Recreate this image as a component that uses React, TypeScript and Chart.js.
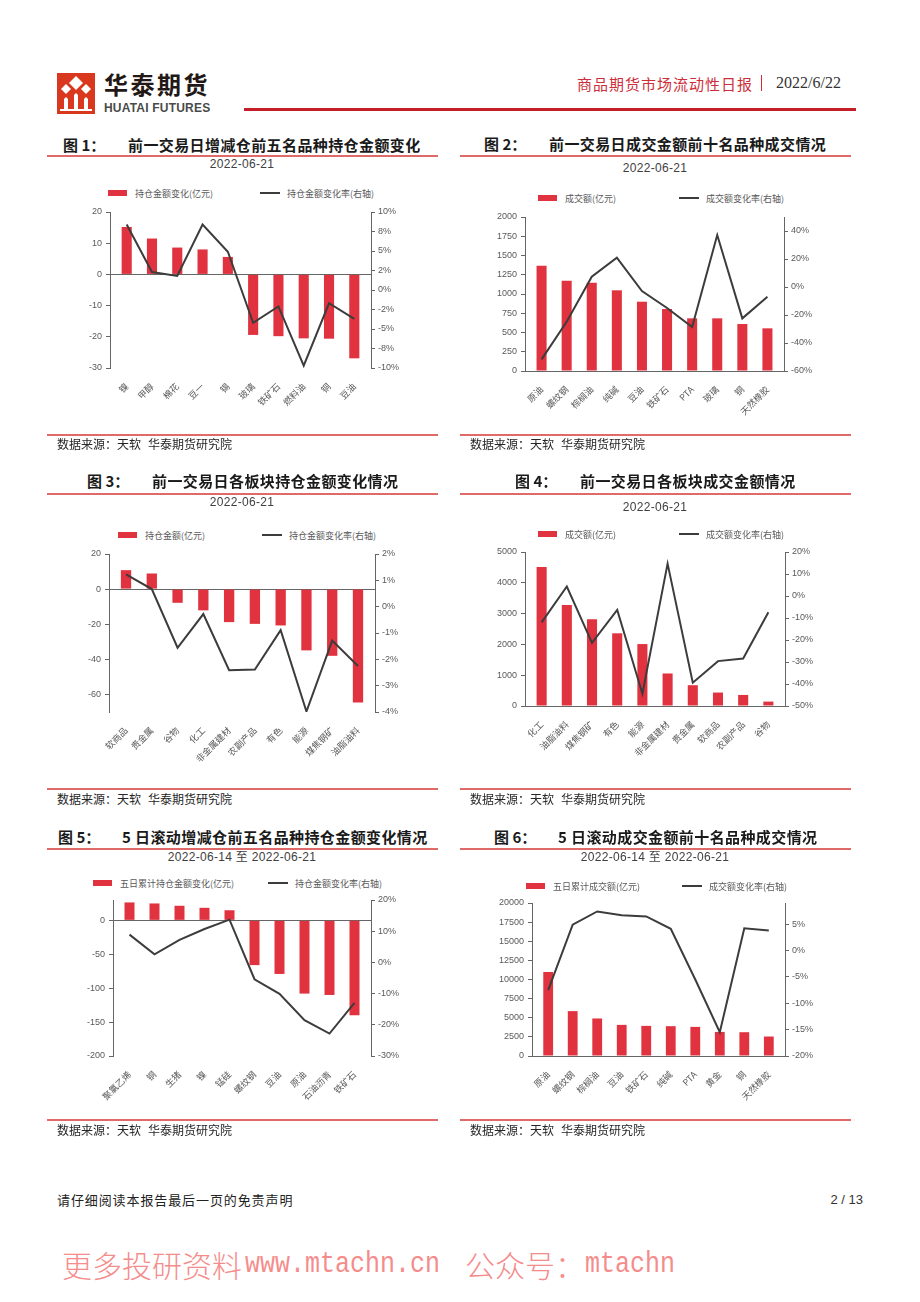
import React, { useEffect, useRef } from 'react';
import { Chart, registerables } from 'chart.js';

Chart.register(...registerables);

const FONT = "'Liberation Sans', 'Noto Sans CJK SC', sans-serif";
const CJK = "'Noto Sans CJK SC', 'Liberation Sans', sans-serif";
const BAR = '#E0323F';
const LINE = '#3C3C3C';
const AXIS = '#666666';
const TICK_TXT = '#595959';
const RED_RULE = '#E06A6A';

// ---------- Chart 1 ----------
const c1Categories = ['镍', '甲醇', '棉花', '豆一', '锡', '玻璃', '铁矿石', '燃料油', '铜', '豆油'];
const c1Bars = [15.2, 11.5, 8.6, 8.0, 5.6, -19.4, -19.8, -20.5, -20.6, -26.9];
const c1Line = [8.4, 2.3, 1.8, 8.4, 4.9, -4.2, -2.1, -9.7, -1.7, -3.7];
const c1LeftTicks = [-30, -20, -10, 0, 10, 20];
const c1RightTicks = [-10, -7.5, -5, -2.5, 0, 2.5, 5, 7.5, 10];
const c1RightLabels = ['-10%', '-8%', '-5%', '-2%', '0%', '2%', '5%', '8%', '10%'];

// ---------- Chart 2 ----------
const c2Categories = ['原油', '螺纹钢', '棕榈油', '纯碱', '豆油', '铁矿石', 'PTA', '玻璃', '铜', '天然橡胶'];
const c2Bars = [1367, 1173, 1145, 1048, 900, 805, 684, 684, 610, 554];
const c2Line = [-51.7, -24.8, 7.4, 20.9, -2.9, -15.0, -28.6, 37.1, -22.4, -6.9];
const c2LeftTicks = [0, 250, 500, 750, 1000, 1250, 1500, 1750, 2000];
const c2RightTicks = [-60, -40, -20, 0, 20, 40];
const c2RightLabels = ['-60%', '-40%', '-20%', '0%', '20%', '40%'];

// ---------- Chart 3 ----------
const c3Categories = ['软商品', '贵金属', '谷物', '化工', '非金属建材', '农副产品', '有色', '能源', '煤焦钢矿', '油脂油料'];
const c3Bars = [10.8, 8.9, -7.8, -12.1, -18.8, -19.8, -20.7, -34.9, -38.0, -64.6];
const c3Line = [1.23, 0.67, -1.56, -0.28, -2.41, -2.39, -0.89, -3.98, -1.29, -2.25];
const c3LeftTicks = [-60, -40, -20, 0, 20];
const c3RightTicks = [-4, -3, -2, -1, 0, 1, 2];
const c3RightLabels = ['-4%', '-3%', '-2%', '-1%', '0%', '1%', '2%'];

// ---------- Chart 4 ----------
const c4Categories = ['化工', '油脂油料', '煤焦钢矿', '有色', '能源', '非金属建材', '贵金属', '软商品', '农副产品', '谷物'];
const c4Bars = [4511, 3282, 2816, 2360, 2011, 1056, 675, 437, 359, 143];
const c4Line = [-12.0, 4.3, -21.3, -6.3, -44.4, 14.7, -39.4, -29.6, -28.4, -7.4];
const c4LeftTicks = [0, 1000, 2000, 3000, 4000, 5000];
const c4RightTicks = [-50, -40, -30, -20, -10, 0, 10, 20];
const c4RightLabels = ['-50%', '-40%', '-30%', '-20%', '-10%', '0%', '10%', '20%'];

// ---------- Chart 5 ----------
const c5Categories = ['聚氯乙烯', '铜', '生猪', '镍', '锰硅', '螺纹钢', '豆油', '原油', '石油沥青', '铁矿石'];
const c5Bars = [26.4, 24.9, 21.5, 18.5, 14.9, -66, -79, -108, -110, -140];
const c5Line = [8.9, 2.6, 7.2, 10.7, 13.7, -5.4, -10.1, -18.5, -22.8, -13.0];
const c5LeftTicks = [-200, -150, -100, -50, 0];
const c5RightTicks = [-30, -20, -10, 0, 10, 20];
const c5RightLabels = ['-30%', '-20%', '-10%', '0%', '10%', '20%'];

// ---------- Chart 6 ----------
const c6Categories = ['原油', '螺纹钢', '棕榈油', '豆油', '铁矿石', '纯碱', 'PTA', '黄金', '铜', '天然橡胶'];
const c6Bars = [10985, 5866, 4906, 4068, 3937, 3898, 3806, 3150, 3110, 2546];
const c6Line = [-7.5, 4.9, 7.4, 6.7, 6.45, 4.1, -5.5, -15.5, 4.2, 3.8];
const c6LeftTicks = [0, 2500, 5000, 7500, 10000, 12500, 15000, 17500, 20000];
const c6RightTicks = [-20, -15, -10, -5, 0, 5];
const c6RightLabels = ['-20%', '-15%', '-10%', '-5%', '0%', '5%'];

type ComboProps = {
  cats: string[];
  bars: number[];
  line: number[];
  barLabel: string;
  lineLabel: string;
  leftMin: number;
  leftMax: number;
  leftTicks: number[];
  rightMin: number;
  rightMax: number;
  rightTicks: number[];
  rightLabels: string[];
  L: number;
  R: number;
  T: number;
  B: number;
};

const PADL = 50;
const PADR = 45;
const PADT = 10;
const PADB = 75;
const EDGE = 0.16;

function ComboChart(p: ComboProps) {
  const ref = useRef<HTMLCanvasElement | null>(null);
  const width = p.R - p.L + PADL + PADR;
  const height = p.B - p.T + PADT + PADB;
  useEffect(() => {
    if (!ref.current) return;
    const chart = new Chart(ref.current, {
      type: 'bar',
      data: {
        datasets: [
          {
            type: 'line',
            label: p.lineLabel,
            data: p.line.map((v, i) => ({ x: i, y: v })),
            yAxisID: 'y1',
            xAxisID: 'x',
            borderColor: LINE,
            backgroundColor: LINE,
            borderWidth: 2,
            pointRadius: 0,
            tension: 0,
            fill: false,
            order: 0,
          } as any,
          {
            type: 'bar',
            label: p.barLabel,
            data: p.bars.map((v, i) => ({ x: i, y: v })),
            yAxisID: 'y',
            xAxisID: 'x',
            backgroundColor: BAR,
            borderWidth: 0,
            barPercentage: 0.4,
            categoryPercentage: 1,
            order: 1,
          } as any,
        ],
      },
      options: {
        responsive: false,
        animation: false,
        devicePixelRatio: 1,
        layout: { padding: { top: PADT, left: 0, right: 0, bottom: 0 } },
        plugins: {
          legend: { display: false },
          tooltip: { enabled: false },
          title: { display: false },
        },
        scales: {
          x: {
            type: 'linear',
            position: 'bottom',
            min: -0.5 - EDGE,
            max: p.cats.length - 0.5 + EDGE,
            offset: false,
            grid: { display: false },
            border: { display: false },
            afterBuildTicks: (ax: any) => {
              ax.ticks = p.cats.map((_, i) => ({ value: i }));
            },
            afterFit: (ax: any) => {
              ax.height = PADB;
            },
            ticks: {
              autoSkip: false,
              minRotation: 45,
              maxRotation: 45,
              padding: 5,
              color: TICK_TXT,
              font: { family: CJK, size: 9 },
              callback: (v: any) => p.cats[v as number] ?? '',
            },
          } as any,
          y: {
            type: 'linear',
            position: 'left',
            min: p.leftMin,
            max: p.leftMax,
            afterBuildTicks: (ax: any) => {
              ax.ticks = p.leftTicks.map((v) => ({ value: v }));
            },
            afterFit: (ax: any) => {
              ax.width = PADL;
            },
            grid: {
              drawOnChartArea: true,
              color: (ctx: any) => (ctx.tick && ctx.tick.value === 0 ? AXIS : 'rgba(0,0,0,0)'),
              tickColor: AXIS,
              tickLength: 4,
              lineWidth: 1,
            },
            border: { display: true, color: AXIS, width: 1 },
            ticks: {
              color: TICK_TXT,
              padding: 4,
              font: { family: FONT, size: 9 },
              callback: (v: any) => String(v),
            },
          } as any,
          y1: {
            type: 'linear',
            position: 'right',
            min: p.rightMin,
            max: p.rightMax,
            afterBuildTicks: (ax: any) => {
              ax.ticks = p.rightTicks.map((v) => ({ value: v }));
            },
            afterFit: (ax: any) => {
              ax.width = PADR;
            },
            grid: {
              drawOnChartArea: false,
              tickColor: AXIS,
              tickLength: 4,
            },
            border: { display: true, color: AXIS, width: 1 },
            ticks: {
              color: TICK_TXT,
              padding: 3,
              font: { family: FONT, size: 9 },
              callback: (v: any) => {
                const idx = p.rightTicks.indexOf(v as number);
                return idx >= 0 ? p.rightLabels[idx] : '';
              },
            },
          } as any,
        },
      },
    });
    return () => chart.destroy();
  }, []);
  return (
    <canvas
      ref={ref}
      width={width}
      height={height}
      style={{ position: 'absolute', left: p.L - PADL, top: p.T - PADT, width, height }}
    />
  );
}

type TxtProps = {
  x: number;
  y: number;
  size: number;
  color?: string;
  family?: string;
  weight?: number | string;
  ls?: number;
  align?: 'left' | 'center' | 'right';
  children: React.ReactNode;
  style?: React.CSSProperties;
};

function Txt({ x, y, size, color = '#333', family = CJK, weight = 400, ls = 0, align = 'left', children, style = {} }: TxtProps) {
  const lh = Math.round(size * 1.4);
  return (
    <div
      style={{
        position: 'absolute',
        left: x,
        top: y - lh / 2,
        fontSize: size,
        lineHeight: lh + 'px',
        color,
        fontFamily: family,
        fontWeight: weight as any,
        letterSpacing: ls,
        whiteSpace: 'nowrap',
        transform: align === 'center' ? 'translateX(-50%)' : align === 'right' ? 'translateX(-100%)' : undefined,
        ...style,
      }}
    >
      {children}
    </div>
  );
}

function Rule({ x, y, w, h = 2, color = RED_RULE }: { x: number; y: number; w: number; h?: number; color?: string }) {
  return <div style={{ position: 'absolute', left: x, top: y, width: w, height: h, background: color }} />;
}

type PanelProps = {
  ox: number;
  num: string;
  numX: number;
  title: string;
  titleX: number;
  titleY: number;
  ruleY: number;
  date: string;
  dateY: number;
  legY: number;
  boxX: number;
  barLabel: string;
  lineX: number;
  lineLabel: string;
  srcRuleY: number;
  srcY: number;
  chart: ComboProps;
};

function Panel(p: PanelProps) {
  return (
    <>
      <Txt x={p.numX} y={p.titleY} size={15} weight={700} color="#1a1a1a">{p.num}</Txt>
      <Txt x={p.titleX} y={p.titleY} size={15} weight={700} ls={0.4} color="#1a1a1a">{p.title}</Txt>
      <Rule x={47 + p.ox} y={p.ruleY} w={391} />
      <Txt x={242 + p.ox} y={p.dateY} size={12} family={FONT} color="#404040" align="center" ls={0.3}>
        {p.date}
      </Txt>
      <div style={{ position: 'absolute', left: p.boxX, top: p.legY - 3, width: 19, height: 6, background: BAR }} />
      <Txt x={p.boxX + 27} y={p.legY} size={9} color={TICK_TXT}>{p.barLabel}</Txt>
      <div style={{ position: 'absolute', left: p.lineX, top: p.legY - 1, width: 20, height: 2, background: LINE }} />
      <Txt x={p.lineX + 27} y={p.legY} size={9} color={TICK_TXT}>{p.lineLabel}</Txt>
      <ComboChart {...p.chart} />
      <Rule x={47 + p.ox} y={p.srcRuleY} w={391} />
      <Txt x={57 + p.ox} y={p.srcY} size={12} color="#262626">数据来源：</Txt>
      <Txt x={117 + p.ox} y={p.srcY} size={12} color="#262626">天软</Txt>
      <Txt x={148 + p.ox} y={p.srcY} size={12} color="#262626">华泰期货研究院</Txt>
    </>
  );
}

function Logo() {
  return (
    <svg width={38} height={41} viewBox="0 0 38 41" style={{ position: 'absolute', left: 57, top: 73 }}>
      <rect x={0} y={0} width={38} height={41} fill="#D9381E" />
      <polygon points="19,3 26,10 19,17 12,10" fill="#fff" />
      <polygon points="9,11 14,16 9,21 4,16" fill="#fff" />
      <polygon points="29,11 34,16 29,21 24,16" fill="#fff" />
      <polygon points="19,20 21,22 21,38 17,38 17,22" fill="#fff" />
      <polygon points="9,24 11,26 11,38 7,38 7,26" fill="#fff" />
      <polygon points="29,24 31,26 31,38 27,38 27,26" fill="#fff" />
      <rect x={3} y={36} width={32} height={2} fill="#fff" />
    </svg>
  );
}

export default function App() {
  const panels: PanelProps[] = [
    {
      ox: 0, num: '图 1：', numX: 63, title: '前一交易日增减仓前五名品种持仓金额变化', titleX: 128, titleY: 144, ruleY: 155,
      date: '2022-06-21', dateY: 164, legY: 193, boxX: 108, barLabel: '持仓金额变化(亿元)', lineX: 260,
      lineLabel: '持仓金额变化率(右轴)', srcRuleY: 434, srcY: 443,
      chart: {
        cats: c1Categories, bars: c1Bars, line: c1Line, barLabel: '持仓金额变化(亿元)', lineLabel: '持仓金额变化率(右轴)',
        leftMin: -30, leftMax: 20, leftTicks: c1LeftTicks, rightMin: -10, rightMax: 10, rightTicks: c1RightTicks,
        rightLabels: c1RightLabels, L: 110, R: 371, T: 212, B: 368,
      },
    },
    {
      ox: 413, num: '图 2：', numX: 484, title: '前一交易日成交金额前十名品种成交情况', titleX: 549, titleY: 143, ruleY: 155,
      date: '2022-06-21', dateY: 168, legY: 198, boxX: 538, barLabel: '成交额(亿元)', lineX: 679,
      lineLabel: '成交额变化率(右轴)', srcRuleY: 434, srcY: 443,
      chart: {
        cats: c2Categories, bars: c2Bars, line: c2Line, barLabel: '成交额(亿元)', lineLabel: '成交额变化率(右轴)',
        leftMin: 0, leftMax: 2000, leftTicks: c2LeftTicks, rightMin: -60, rightMax: 50, rightTicks: c2RightTicks,
        rightLabels: c2RightLabels, L: 525, R: 784, T: 217, B: 371,
      },
    },
    {
      ox: 0, num: '图 3：', numX: 87, title: '前一交易日各板块持仓金额变化情况', titleX: 152, titleY: 480, ruleY: 493,
      date: '2022-06-21', dateY: 502, legY: 535, boxX: 118, barLabel: '持仓金额(亿元)', lineX: 262,
      lineLabel: '持仓金额变化率(右轴)', srcRuleY: 788, srcY: 798,
      chart: {
        cats: c3Categories, bars: c3Bars, line: c3Line, barLabel: '持仓金额(亿元)', lineLabel: '持仓金额变化率(右轴)',
        leftMin: -70, leftMax: 20, leftTicks: c3LeftTicks, rightMin: -4, rightMax: 2, rightTicks: c3RightTicks,
        rightLabels: c3RightLabels, L: 109, R: 375, T: 554, B: 712,
      },
    },
    {
      ox: 413, num: '图 4：', numX: 515, title: '前一交易日各板块成交金额情况', titleX: 580, titleY: 480, ruleY: 493,
      date: '2022-06-21', dateY: 507, legY: 534, boxX: 538, barLabel: '成交额(亿元)', lineX: 679,
      lineLabel: '成交额变化率(右轴)', srcRuleY: 788, srcY: 798,
      chart: {
        cats: c4Categories, bars: c4Bars, line: c4Line, barLabel: '成交额(亿元)', lineLabel: '成交额变化率(右轴)',
        leftMin: 0, leftMax: 5000, leftTicks: c4LeftTicks, rightMin: -50, rightMax: 20, rightTicks: c4RightTicks,
        rightLabels: c4RightLabels, L: 525, R: 785, T: 552, B: 706,
      },
    },
    {
      ox: 0, num: '图 5：', numX: 58, title: '5 日滚动增减仓前五名品种持仓金额变化情况', titleX: 122, titleY: 836, ruleY: 848,
      date: '2022-06-14 至 2022-06-21', dateY: 857, legY: 883, boxX: 93, barLabel: '五日累计持仓金额变化(亿元)', lineX: 268,
      lineLabel: '持仓金额变化率(右轴)', srcRuleY: 1119, srcY: 1129,
      chart: {
        cats: c5Categories, bars: c5Bars, line: c5Line, barLabel: '五日累计持仓金额变化(亿元)', lineLabel: '持仓金额变化率(右轴)',
        leftMin: -200, leftMax: 30, leftTicks: c5LeftTicks, rightMin: -30, rightMax: 20, rightTicks: c5RightTicks,
        rightLabels: c5RightLabels, L: 113, R: 371, T: 900, B: 1056,
      },
    },
    {
      ox: 413, num: '图 6：', numX: 494, title: '5 日滚动成交金额前十名品种成交情况', titleX: 558, titleY: 836, ruleY: 848,
      date: '2022-06-14 至 2022-06-21', dateY: 857, legY: 886, boxX: 526, barLabel: '五日累计成交额(亿元)', lineX: 682,
      lineLabel: '成交额变化率(右轴)', srcRuleY: 1119, srcY: 1129,
      chart: {
        cats: c6Categories, bars: c6Bars, line: c6Line, barLabel: '五日累计成交额(亿元)', lineLabel: '成交额变化率(右轴)',
        leftMin: 0, leftMax: 20000, leftTicks: c6LeftTicks, rightMin: -20, rightMax: 9, rightTicks: c6RightTicks,
        rightLabels: c6RightLabels, L: 532, R: 785, T: 903, B: 1056,
      },
    },
  ];

  return (
    <div style={{ position: 'absolute', left: 0, top: 0, width: 920, height: 1302, background: '#fff', overflow: 'hidden' }}>
      {/* header */}
      <Logo />
      <Txt x={104} y={84} size={24} weight={700} color="#231815" ls={2.5}>华泰期货</Txt>
      <Txt x={104} y={108} size={12} family={FONT} weight={700} color="#4a4a4a" ls={0.2}>HUATAI FUTURES</Txt>
      <Txt x={577} y={83} size={15} color="#CC2E3A" ls={1}>商品期货市场流动性日报</Txt>
      <div style={{ position: 'absolute', left: 761, top: 75, width: 1, height: 16, background: '#CC2E3A' }} />
      <Txt x={776} y={83} size={16} family="'Liberation Serif', serif" color="#333">2022/6/22</Txt>
      <Rule x={244} y={108} w={612} h={3} color="#C41E28" />

      {panels.map((pp, i) => (
        <Panel key={i} {...pp} />
      ))}

      {/* footer */}
      <Txt x={57} y={1200} size={13} color="#222" ls={0.9}>请仔细阅读本报告最后一页的免责声明</Txt>
      <Txt x={863} y={1200} size={13} family={FONT} color="#333" align="right">2 / 13</Txt>

      {/* watermark */}
      <Txt x={62} y={1264} size={30} color="#F58C8C" weight={300}>更多投研资料</Txt>
      <Txt x={245} y={1264} size={30} family="'Liberation Mono', monospace" color="#F58C8C" style={{ transformOrigin: 'left center', transform: 'scaleX(0.833)' }}>www.mtachn.cn</Txt>
      <Txt x={465} y={1264} size={30} color="#F58C8C" weight={300}>公众号：</Txt>
      <Txt x={585} y={1264} size={30} family="'Liberation Mono', monospace" color="#F58C8C" style={{ transformOrigin: 'left center', transform: 'scaleX(0.833)' }}>mtachn</Txt>
    </div>
  );
}
